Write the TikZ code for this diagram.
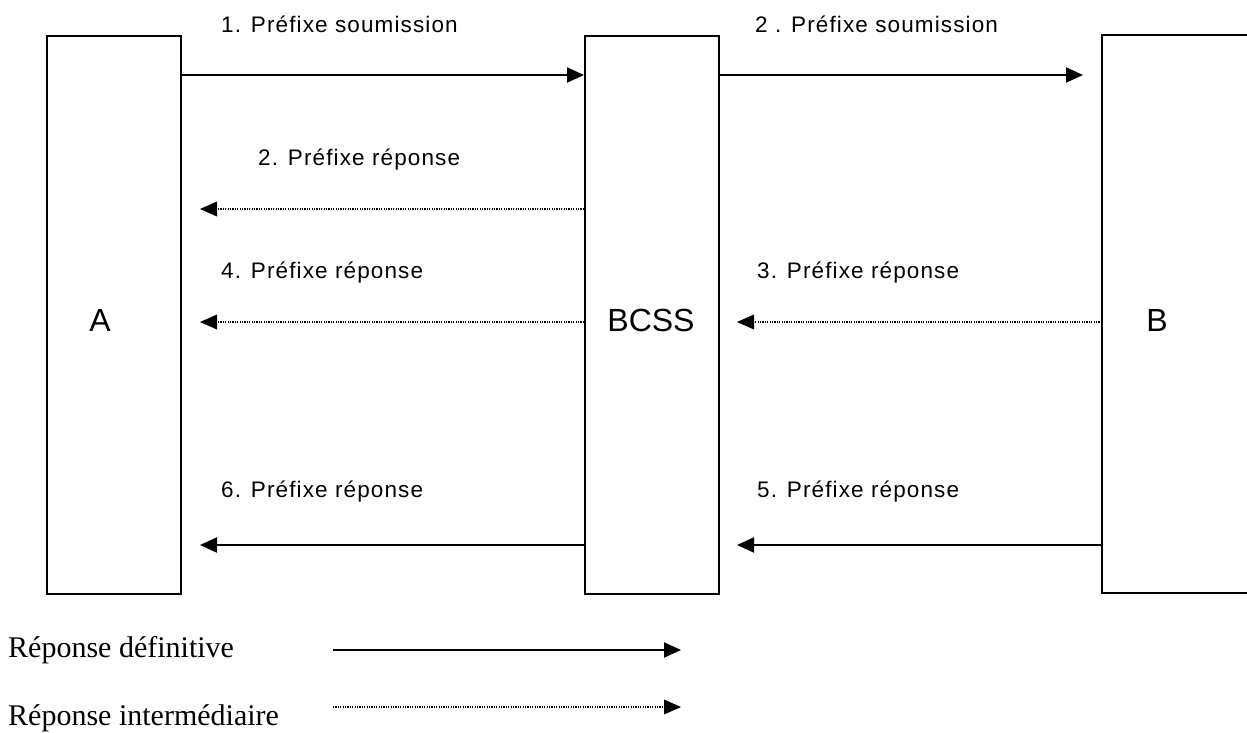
\documentclass[tikz,border=0pt]{standalone}
\usepackage{fontspec}
\setmainfont{Liberation Sans}
\newfontfamily\lblfont[LetterSpace=5]{Liberation Sans}
\newfontfamily\legfont{Liberation Serif}
\usetikzlibrary{arrows.meta}
\begin{document}
\begin{tikzpicture}[x=1pt,y=-1pt,
  box/.style={draw,line width=2pt,inner sep=0pt,anchor=north west},
  solidarr/.style={line width=2pt,-{Triangle[length=17pt,width=15pt]}},
  dotarr/.style={line width=1.6pt,dash pattern=on 1.2pt off 1.2pt,-{Triangle[length=17pt,width=15pt,line width=0pt]}},
  lbl/.style={anchor=west,inner sep=0pt,font=\fontsize{22.5}{25}\lblfont},
  big/.style={inner sep=0pt,font=\fontsize{32}{36}\selectfont},
  leg/.style={anchor=base west,inner sep=0pt,font=\fontsize{30}{34}\legfont}]
\useasboundingbox (0,0) rectangle (1247,733);
% boxes
\node[box,minimum width=134pt,minimum height=558pt] (A) at (46,35) {};
\node[box,minimum width=134pt,minimum height=558pt] (C) at (584,35) {};
\draw[line width=2pt] (1260,35) -- (1102,35) -- (1102,593) -- (1260,593);
\node[big] (At) at (100,320) {A};
\node[big] (Ct) at (651,320) {BCSS};
\node[big] (Bt) at (1157,320) {B};
% connector coordinates
\coordinate (a1) at (180,75);
\coordinate (c1) at (584,75);
\coordinate (c1r) at (718,75);
\coordinate (b1) at (1083,75);
\coordinate (c2) at (584,209);
\coordinate (a2) at (200,209);
\coordinate (c3) at (584,322);
\coordinate (a3) at (200,322);
\coordinate (b3) at (1102,322);
\coordinate (c3r) at (737,322);
\coordinate (c5) at (584,545);
\coordinate (a5) at (200,545);
\coordinate (b5) at (1102,545);
\coordinate (c5r) at (737,545);
\draw[solidarr] (a1) -- (c1);
\draw[solidarr] (c1r) -- (b1);
\draw[dotarr] (c2) -- (a2);
\draw[dotarr] (c3) -- (a3);
\draw[dotarr] (b3) -- (c3r);
\draw[solidarr] (c5) -- (a5);
\draw[solidarr] (b5) -- (c5r);
% labels
\node[lbl] (l1) at (221,24) {1. Préfixe soumission};
\node[lbl] (l2) at (755,24) {2 . Préfixe soumission};
\node[lbl] (l3) at (258,160) {2. Préfixe réponse};
\node[lbl] (l4) at (221,273) {4. Préfixe réponse};
\node[lbl] (l5) at (757,273) {3. Préfixe réponse};
\node[lbl] (l6) at (221,492) {6. Préfixe réponse};
\node[lbl] (l7) at (757,492) {5. Préfixe réponse};
% legend
\node[leg] (g1) at (8,657) {Réponse définitive};
\node[leg] (g2) at (8,725) {Réponse intermédiaire};
\coordinate (s1) at (333,650);
\coordinate (e1) at (681,650);
\coordinate (s2) at (333,707);
\coordinate (e2) at (681,707);
\draw[solidarr] (s1) -- (e1);
\draw[dotarr,line width=1.2pt] (s2) -- (e2);
\end{tikzpicture}
\end{document}
